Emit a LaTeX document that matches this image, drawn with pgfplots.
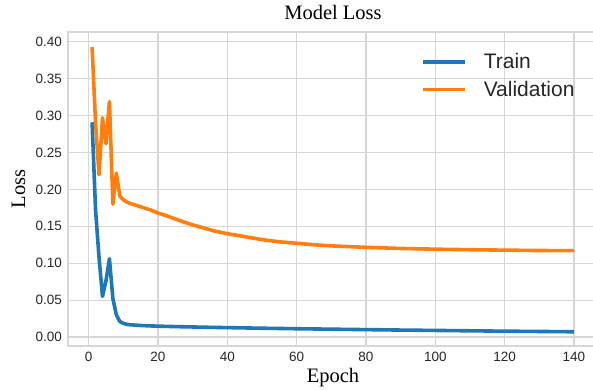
\documentclass[border=0pt]{standalone}
\usepackage{fontspec}
\setmainfont{Liberation Serif}
\newfontfamily\sansf{Liberation Sans}
\usepackage{pgfplots}
\pgfplotsset{compat=1.18}
\definecolor{gridc}{HTML}{D6D6D6}
\definecolor{tblue}{HTML}{1F77B4}
\definecolor{torange}{HTML}{FF7F0E}
\definecolor{txt}{HTML}{262626}
\begin{document}
\begin{tikzpicture}
\path[use as bounding box] (-68pt,-43pt) rectangle (525pt,346pt);
\begin{axis}[
  at={(0pt,0pt)}, anchor=south west,
  scale only axis, width=530pt, height=314pt,
  xmin=-5.95, xmax=146.95, ymin=-0.0122, ymax=0.4133,
  xtick={0,20,40,60,80,100,120,140},
  ytick={0,0.05,0.10,0.15,0.20,0.25,0.30,0.35,0.40},
  yticklabel style={/pgf/number format/.cd, fixed, fixed zerofill, precision=2},
  /pgf/number format/assume math mode=true,
  ticklabel style={font=\sansf\fontsize{13.5}{16}\selectfont, text=txt, inner sep=0pt},
  xticklabel shift=6pt, yticklabel shift=6pt,
  major tick length=0pt,
  grid=major,
  grid style={draw=gridc, line width=1.2pt},
  axis line style={draw=gridc, line width=1.2pt},
  title={Model Loss},
  title style={font=\fontsize{20.5}{24}\selectfont, at={(axis description cs:0.5,1.0223)}, anchor=base, inner sep=0pt},
  xlabel={Epoch},
  xlabel style={font=\fontsize{20.5}{24}\selectfont, at={(axis description cs:0.5,-0.1178)}, anchor=base, inner sep=0pt},
  ylabel={Loss},
  every axis y label/.style={font=\fontsize{20.5}{24}\selectfont, at={(axis description cs:-0.0811,0.5)}, anchor=base, rotate=90, inner sep=0pt},
  legend cell align=left,
  legend style={at={(axis description cs:0.6660,0.932)}, anchor=north west, draw=none, fill=none,
    inner sep=0pt, row sep=11pt, column sep=17pt,
    font=\sansf\fontsize{21}{24}\selectfont, text=txt,
    nodes={inner sep=0pt}},
  legend image code/.code={\draw[#1] (0pt,0pt) -- (42pt,0pt);},
  every axis plot/.append style={line width=3.6pt, line join=round},
]
\addplot[tblue] coordinates {
(1,0.291) (2,0.172) (3,0.108) (4,0.055) (5,0.076) (6,0.106) (7,0.052) (8,0.030) (9,0.021)
(10,0.0185) (11,0.0172) (12,0.0166) (14,0.0159) (16,0.0154) (18,0.0150) (20,0.0147)
(25,0.0141) (30,0.0136) (35,0.0131) (40,0.0127) (45,0.0123) (50,0.0119) (60,0.0112)
(70,0.0106) (80,0.0100) (90,0.0094) (100,0.0089) (110,0.0084) (120,0.0079) (130,0.0075) (140,0.0071)
};
\addlegendentry{Train}
\addplot[torange] coordinates {
(1,0.393) (2,0.290) (3,0.220) (4,0.297) (5,0.262) (6,0.319) (7,0.180) (8,0.222) (9,0.191)
(10,0.186) (11,0.183) (12,0.181) (14,0.178) (16,0.175) (18,0.172) (20,0.168) (22,0.165)
(25,0.160) (28,0.155) (30,0.152) (33,0.148) (36,0.144) (40,0.140) (45,0.136) (50,0.132)
(55,0.129) (60,0.127) (65,0.125) (70,0.1235) (80,0.1215) (90,0.120) (100,0.119)
(110,0.1183) (120,0.1177) (130,0.1172) (140,0.1170)
};
\addlegendentry{Validation}
\end{axis}
\end{tikzpicture}
\end{document}
